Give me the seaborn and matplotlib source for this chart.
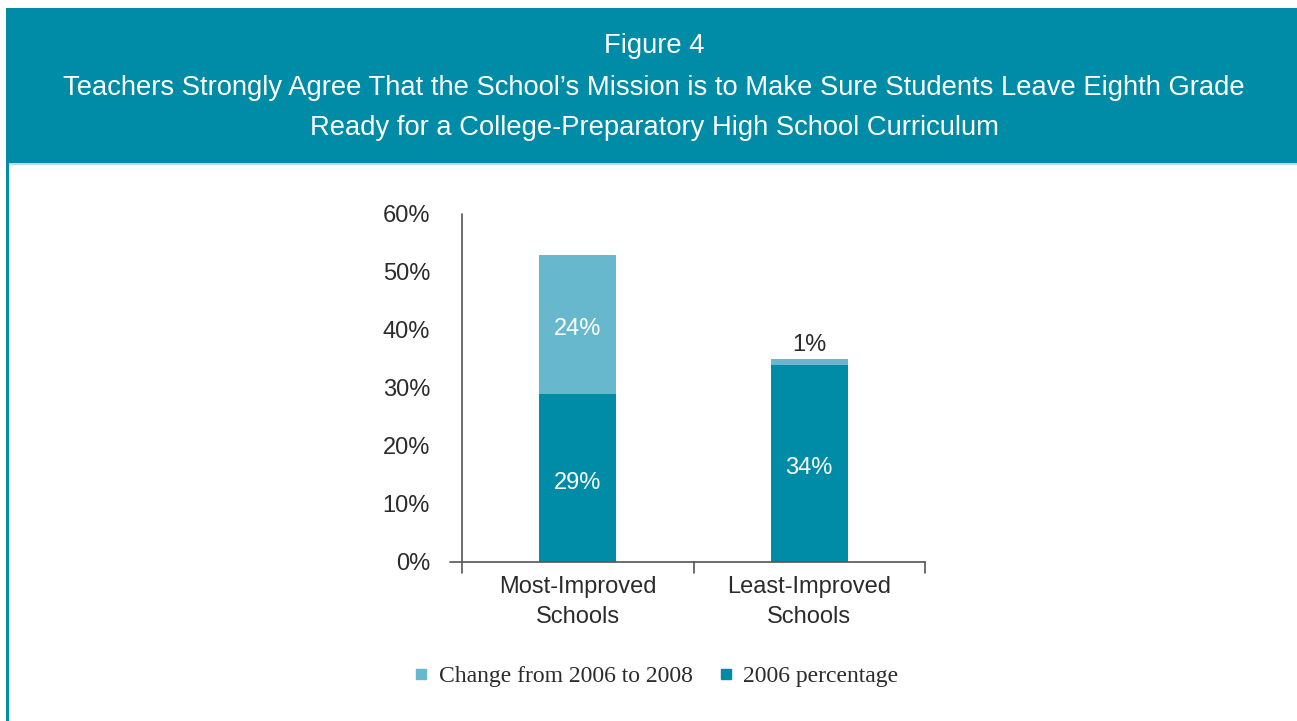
import matplotlib
matplotlib.use("Agg")
import matplotlib.pyplot as plt
from matplotlib.patches import Rectangle
from matplotlib.lines import Line2D
import seaborn as sns
import pandas as pd

categories = ["Most-Improved\nSchools", "Least-Improved\nSchools"]
base_2006 = [29, 34]
change = [24, 1]
series_names = ["Change from 2006 to 2008", "2006 percentage"]
yticks = [0, 10, 20, 30, 40, 50, 60]
title_lines = ["Figure 4",
               "Teachers Strongly Agree That the School\u2019s Mission is to Make Sure Students Leave Eighth Grade",
               "Ready for a College-Preparatory High School Curriculum"]

DARK = "#008CA6"
LIGHT = "#67B8CD"
TEXT = "#2b2b2b"
NARROW = ["Liberation Sans Narrow", "Liberation Sans", "DejaVu Sans"]
SERIF = ["Liberation Serif", "DejaVu Serif"]

sns.set_theme(style="white")
plt.rcParams["font.family"] = NARROW

df = pd.DataFrame({"cat": categories, "base": base_2006, "change": change})
df["total"] = df["base"] + df["change"]

fig = plt.figure(figsize=(12.97, 7.21), dpi=100)
W, H = 1297, 721

# header band and left border
fig.patches.append(Rectangle((6 / W, 1 - 163 / H), 1 - 6 / W, 155 / H,
                             transform=fig.transFigure, facecolor=DARK, edgecolor="none", zorder=0))
fig.patches.append(Rectangle((6 / W, 0), 3 / W, 1 - 163 / H,
                             transform=fig.transFigure, facecolor=DARK, edgecolor="none", zorder=0))
fig.patches.append(Rectangle((9 / W, 1 - 164.5 / H), 1 - 9 / W, 1.5 / H,
                             transform=fig.transFigure, facecolor="#b8dde6", edgecolor="none", zorder=0))

ys = [46, 88, 128]
for t, y in zip(title_lines, ys):
    fig.text(654 / W, 1 - y / H, t, ha="center", va="center", color="white",
             fontsize=19.7, family=NARROW)

ax = fig.add_axes([462 / W, 1 - 562 / H, 463 / W, 348 / H])
sns.barplot(data=df, x="cat", y="total", color=LIGHT, width=1 / 3, ax=ax,
            saturation=1, edgecolor="none")
sns.barplot(data=df, x="cat", y="base", color=DARK, width=1 / 3, ax=ax,
            saturation=1, edgecolor="none")

ax.set_xlim(-0.5, 1.5)
ax.set_ylim(0, 60)
ax.set_xlabel("")
ax.set_ylabel("")
for s in ["top", "right", "bottom", "left"]:
    ax.spines[s].set_visible(False)

# axis lines
ax.plot([-0.5 - 12 / 231.5, 1.5], [0, 0], color="#555555", lw=1.2, clip_on=False, zorder=5)
ax.plot([-0.5, -0.5], [-11 / 5.8, 60], color="#555555", lw=1.2, clip_on=False, zorder=5)
for xb in [0.5, 1.5]:
    ax.plot([xb, xb], [-11 / 5.8, 0], color="#555555", lw=1.2, clip_on=False, zorder=5)

ax.set_yticks(yticks)
ax.set_yticklabels([f"{v}%" for v in yticks], fontsize=17, color=TEXT)
ax.tick_params(axis="y", length=0, pad=23)
ax.set_xticks([0, 1])
ax.set_xticklabels(categories, fontsize=17, color=TEXT, linespacing=1.45)
ax.tick_params(axis="x", length=0, pad=10)

for i in range(len(categories)):
    b, c = base_2006[i], change[i]
    ax.text(i, b / 2 - 0.8, f"{b}%", ha="center", va="center", color="white", fontsize=17)
    if c >= 5:
        ax.text(i, b + c / 2 - 0.8, f"{c}%", ha="center", va="center", color="white", fontsize=17)
    else:
        ax.text(i, b + c + 0.5, f"{c}%", ha="center", va="bottom", color=TEXT, fontsize=17)

handles = [Line2D([], [], marker="s", linestyle="none", markersize=7.5, color=LIGHT),
           Line2D([], [], marker="s", linestyle="none", markersize=7.5, color=DARK)]
fig.legend(handles, series_names, loc="center", bbox_to_anchor=(655 / W, 1 - 676 / H),
           ncol=2, frameon=False, prop={"family": SERIF, "size": 17},
           handlelength=0.8, handletextpad=0.35, columnspacing=1.0, labelcolor=TEXT)

fig.savefig("out.png", dpi=100, facecolor="white")
